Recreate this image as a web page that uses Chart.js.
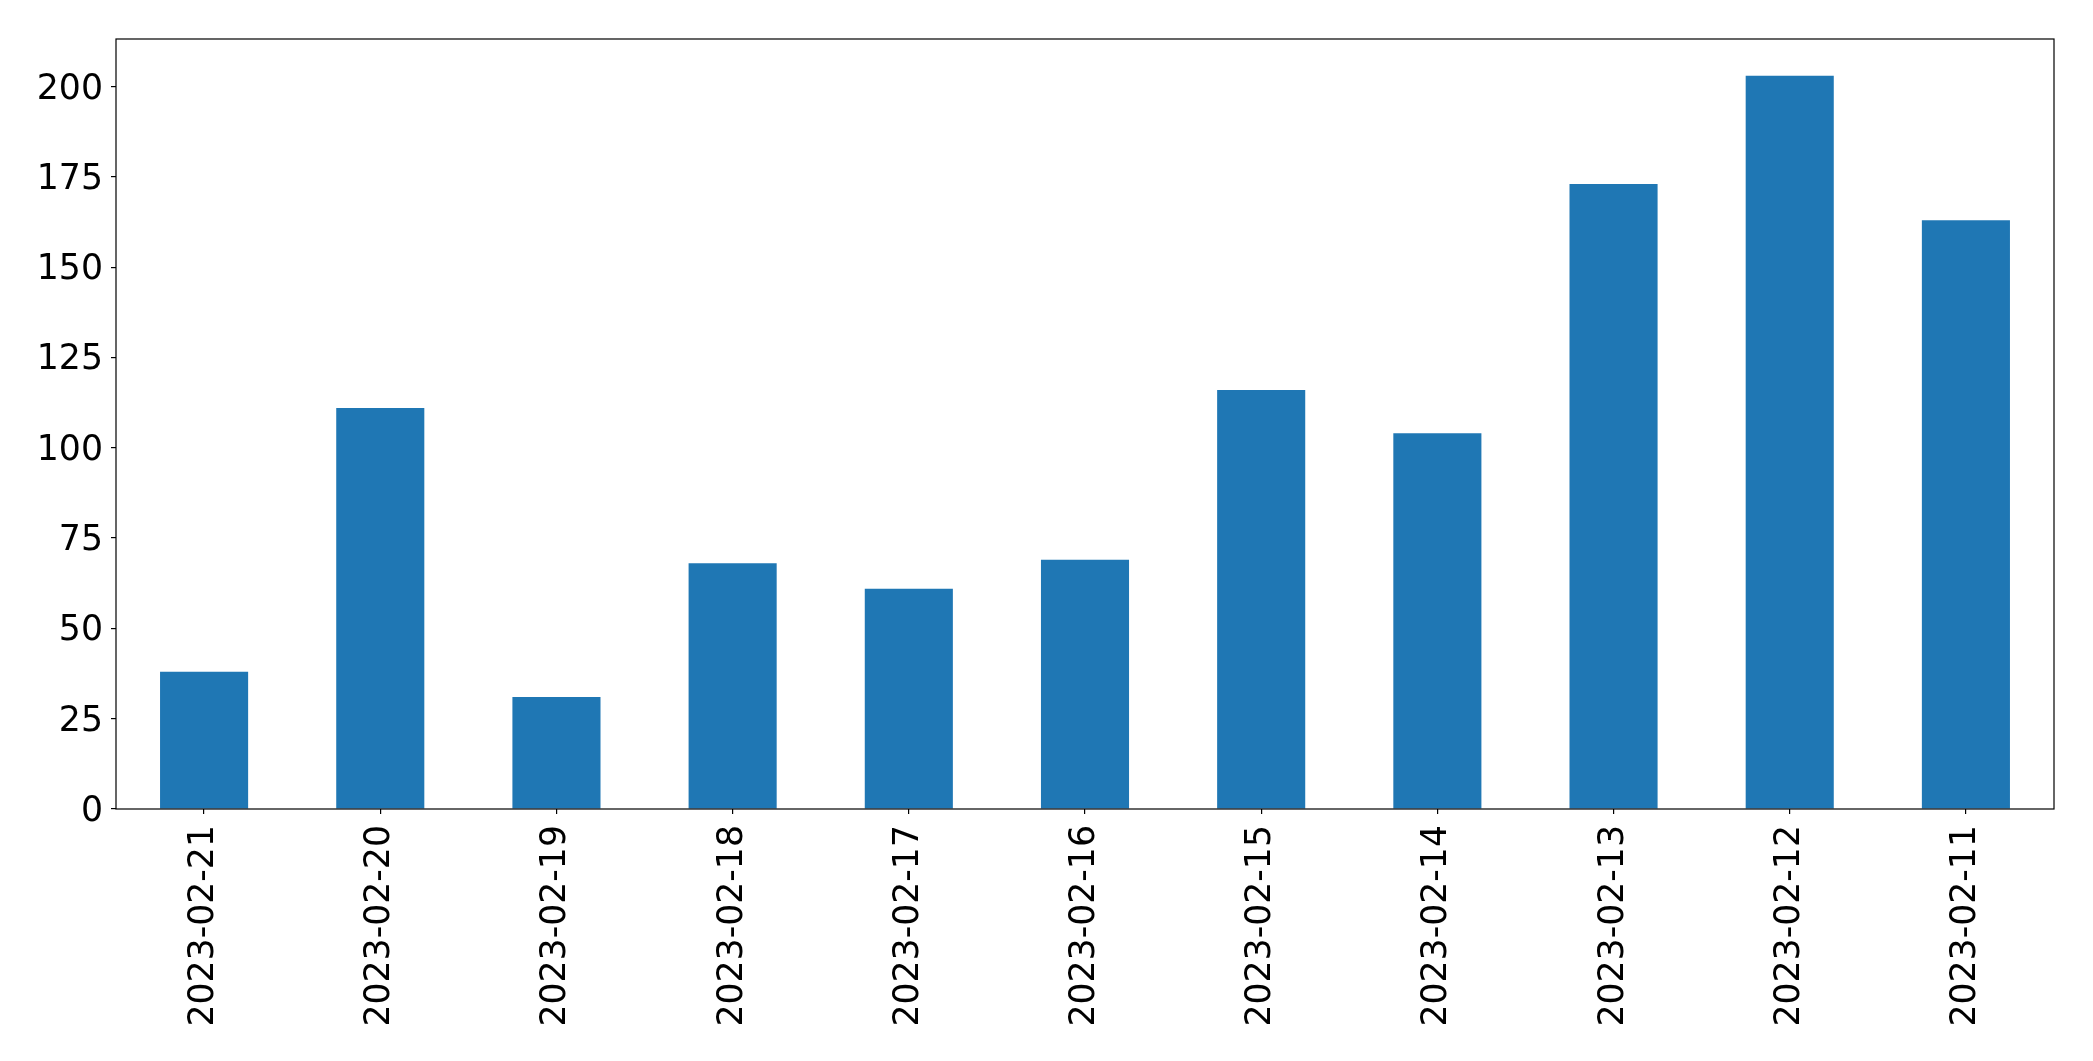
<!DOCTYPE html>
<html>
<head>
<meta charset="utf-8">
<script src="https://cdn.jsdelivr.net/npm/chart.js@4/dist/chart.umd.min.js"></script>
<style>
    html, body { margin: 0; padding: 0; background: #fff; }
    #wrap { width: 2093px; height: 1061px; }
</style>
</head>
<body>
<div id="wrap"><canvas id="barChart"></canvas></div>
<script>
const dates = [
    "2023-02-21", "2023-02-20", "2023-02-19", "2023-02-18", "2023-02-17", "2023-02-16",
    "2023-02-15", "2023-02-14", "2023-02-13", "2023-02-12", "2023-02-11",
];
const counts = [38, 111, 31, 68, 61, 69, 116, 104, 173, 203, 163];
const yTicks = [0, 25, 50, 75, 100, 125, 150, 175, 200];
const yMax = 213.15;

// draws the black frame around the plot area
const frame = {
    id: "frame",
    afterDraw(chart) {
        const { ctx, chartArea } = chart;
        ctx.save();
        ctx.strokeStyle = "#000";
        ctx.lineWidth = 1.2;
        ctx.strokeRect(chartArea.left, chartArea.top, chartArea.right - chartArea.left, chartArea.bottom - chartArea.top);
        ctx.restore();
    },
};

const tickFont = { family: "DejaVu Sans", size: 34.7 };

new Chart(document.getElementById("barChart").getContext("2d"), {
    type: "bar",
    data: {
        labels: dates,
        datasets: [
            {
                data: counts,
                backgroundColor: "#1f77b4",
                borderWidth: 0,
                barPercentage: 0.5,
                categoryPercentage: 1.0,
            },
        ],
    },
    options: {
        responsive: true,
        maintainAspectRatio: false,
        animation: false,
        layout: { padding: { top: 39, right: 39, left: 0, bottom: 0 } },
        plugins: {
            legend: { display: false },
            tooltip: { enabled: false },
        },
        scales: {
            x: {
                offset: true,
                grid: { offset: false, drawOnChartArea: false, drawTicks: true, tickLength: 5, color: "#000", lineWidth: 1.2 },
                border: { display: false },
                ticks: {
                    color: "#000",
                    font: tickFont,
                    minRotation: 90,
                    maxRotation: 90,
                    autoSkip: false,
                    padding: 11,
                },
                afterFit(scale) {
                    scale.height = 252;
                },
            },
            y: {
                min: 0,
                max: yMax,
                grid: { drawOnChartArea: false, drawTicks: true, tickLength: 5, color: "#000", lineWidth: 1.2 },
                border: { display: false },
                afterBuildTicks(scale) {
                    scale.ticks = yTicks.map((v) => ({ value: v }));
                },
                ticks: {
                    color: "#000",
                    font: tickFont,
                    padding: 8,
                    labelOffset: 3,
                },
                afterFit(scale) {
                    scale.width = 116;
                },
            },
        },
    },
    plugins: [frame],
});
</script>
</body>
</html>
